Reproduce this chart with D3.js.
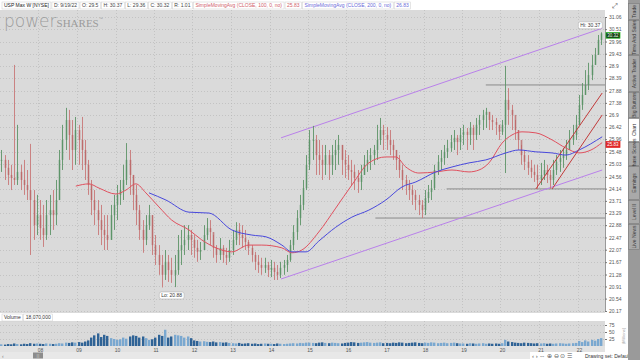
<!DOCTYPE html>
<html><head><meta charset="utf-8">
<script src="https://cdn.jsdelivr.net/npm/d3@7"></script>
<style>
html,body{margin:0;padding:0;background:#fff;overflow:hidden;}
svg{display:block;font-family:"Liberation Sans",Arial,sans-serif;}
</style></head><body>
<svg id="c" width="640" height="360"></svg>
<script>
// ---------- data (monthly, Jan 2007 .. Aug 2022) ----------
const yearLabels = ["08","09","10","11","12","13","14","15","16","17","18","19","20","21","22"];
const priceTicks = [31.06,30.51,29.96,29.43,28.9,28.39,27.88,27.38,26.9,26.42,25.96,25.48,25.03,24.56,24.14,23.71,23.29,22.88,22.47,22.07,21.67,21.28,20.91,20.54,20.17];
const volTicks = [25,50,75];
const high = [
25.55,25.36,25.18,25.00,28.95,26.51,25.00,25.18,24.81,25.78,24.09,23.92,
23.74,23.57,23.74,23.92,24.09,24.45,25.55,26.51,27.18,27.10,26.70,26.82,
26.51,26.82,25.93,25.18,24.45,24.09,23.74,23.57,23.22,23.22,23.57,23.92,
24.27,24.45,25.00,25.81,25.55,24.63,24.27,23.57,23.05,23.22,23.57,23.22,
22.55,22.22,21.90,22.06,21.90,21.81,21.90,22.55,22.72,22.88,22.88,22.72,
22.55,22.39,22.32,22.88,23.12,23.05,22.55,22.22,22.45,22.22,22.13,22.39,
22.72,22.98,22.95,22.88,22.72,22.39,22.22,22.00,21.90,21.81,21.81,21.68,
21.74,21.68,21.58,21.68,21.74,21.90,22.39,22.88,23.39,23.92,24.45,25.36,
26.31,26.47,26.12,25.93,25.74,25.74,25.55,25.74,25.93,26.12,25.74,25.55,
25.36,25.18,25.00,24.81,25.00,25.36,25.55,25.62,25.74,26.51,26.78,26.51,
26.43,26.31,25.93,25.55,25.36,25.00,24.63,24.45,24.27,24.09,23.92,23.74,
24.09,24.27,24.45,25.00,25.36,25.55,25.74,25.93,26.12,26.31,26.12,26.39,
26.51,26.39,26.62,26.51,26.78,26.90,27.10,27.18,27.02,26.90,26.78,26.51,
26.70,28.91,27.98,27.30,26.70,26.31,25.74,25.55,25.36,25.18,25.00,25.00,
25.07,25.18,25.00,24.81,25.18,25.36,25.55,25.62,25.93,26.31,26.51,26.90,
27.70,28.19,28.73,29.04,29.38,29.68,30.25,30.37];
const low = [
24.74,24.45,24.27,24.09,24.27,24.27,24.09,23.92,23.74,21.90,22.39,22.55,
22.39,22.16,22.39,22.55,22.72,22.88,23.74,24.81,25.55,25.18,24.81,25.00,
25.00,24.81,24.45,23.92,23.22,22.88,22.55,22.22,22.06,22.06,22.39,22.72,
23.05,23.57,23.74,24.27,23.92,23.39,22.88,22.39,21.97,22.22,22.72,21.90,
21.58,21.27,20.88,21.11,21.05,21.02,20.89,21.27,21.58,21.90,22.06,21.90,
21.81,21.68,21.74,22.06,22.39,22.22,21.81,21.65,21.74,21.65,21.58,21.68,
21.90,22.22,22.22,22.13,22.06,21.90,21.68,21.42,21.33,21.27,21.33,21.20,
21.20,21.11,21.11,21.17,21.27,21.36,21.68,22.06,22.39,22.88,23.39,24.09,
24.81,25.18,24.63,24.63,24.45,24.63,24.45,24.63,24.81,25.00,24.63,24.52,
24.45,24.27,24.09,23.99,24.09,24.63,24.74,24.81,25.00,25.18,25.74,25.55,
25.55,25.36,25.18,24.81,24.52,24.09,23.92,23.74,23.57,23.39,23.22,23.12,
23.22,23.64,23.74,24.09,24.63,24.81,25.00,25.25,25.48,25.55,25.36,25.55,
25.74,25.55,25.74,25.55,25.93,26.12,26.31,26.39,26.31,26.31,26.12,25.93,
26.12,24.70,26.51,26.31,25.93,25.55,25.00,24.81,24.63,24.52,24.38,24.13,
24.27,24.45,24.34,24.13,24.27,24.63,24.74,24.89,25.18,25.55,25.74,25.93,
26.51,27.10,27.70,27.90,28.31,28.95,29.38,29.81];
const close = [
25.18,24.89,24.63,24.52,24.45,24.74,24.45,24.27,24.09,23.74,22.88,23.22,
22.78,22.55,23.22,23.39,23.22,23.74,25.18,25.93,26.70,26.12,25.55,26.31,
25.93,25.55,25.00,24.27,23.74,23.39,23.05,22.72,22.55,22.39,23.22,23.57,
23.92,24.09,24.45,25.18,24.63,23.92,23.39,22.72,22.39,22.88,23.22,22.22,
21.90,21.58,21.27,21.68,21.42,21.27,21.42,22.06,22.22,22.39,22.55,22.39,
22.13,22.00,22.06,22.55,22.78,22.65,22.13,21.90,22.13,21.90,21.81,22.06,
22.39,22.72,22.55,22.45,22.32,22.13,21.90,21.68,21.58,21.49,21.58,21.42,
21.49,21.36,21.27,21.49,21.58,21.74,22.22,22.65,23.12,23.57,24.16,25.00,
25.93,25.93,25.36,25.18,25.00,25.36,25.00,25.36,25.55,25.74,25.18,25.00,
24.81,24.74,24.52,24.38,24.63,25.00,25.18,25.36,25.55,25.93,26.31,26.12,
25.93,25.74,25.55,25.18,24.81,24.45,24.27,24.09,23.92,23.74,23.57,23.39,
23.81,24.02,24.16,24.81,25.11,25.25,25.48,25.62,25.85,26.01,25.85,26.12,
26.24,26.12,26.39,26.12,26.51,26.70,26.90,27.02,26.70,26.62,26.51,26.24,
26.51,27.50,27.10,26.90,26.31,25.93,25.36,25.11,24.89,24.74,24.63,24.45,
24.63,24.81,24.63,24.45,24.81,25.11,25.25,25.36,25.55,25.93,26.12,26.51,
27.30,27.70,28.11,28.52,28.95,29.38,30.03,30.32];
const volume = [
6,5,7,6,9,7,6,8,7,10,8,9,
8,7,9,8,7,8,10,9,12,11,13,12,
14,12,16,20,30,38,45,32,40,36,28,25,
22,24,30,26,34,38,36,30,34,28,22,24,
30,40,36,58,30,34,40,38,36,30,34,28,
20,18,16,17,15,14,16,13,14,12,13,11,
10,9,11,8,9,10,8,9,7,8,9,8,
8,7,9,8,7,8,9,10,9,11,10,12,
12,11,10,12,13,11,10,12,11,10,9,11,
12,14,13,11,12,13,14,12,11,12,13,10,
11,10,12,11,13,12,10,11,12,13,11,10,
12,11,13,12,10,11,12,10,11,12,10,9,
9,8,10,9,8,9,10,8,9,8,9,8,
10,22,16,14,12,11,10,12,11,10,9,10,
9,10,8,9,8,9,10,9,8,9,10,11,
18,14,20,16,22,19,25,28];
// moving averages (decimal year, price)
const sma100Years = [2008.97,2009.31,2009.57,2010.01,2010.27,2010.53,2010.79,2011.13,2011.46,2011.91,2012.24,2012.61,2013.02,2013.46,2013.80,2014.32,2014.58,2014.84,2015.28,2015.72,2016.14,2016.58,2017.02,2017.28,2017.54,2017.88,2018.32,2018.74,2019.18,2019.44,2019.70,2020.04,2020.30,2020.56,2020.92,2021.34,2021.70,2022.04,2022.35,2022.64];
const sma100Values = [24.23,24.31,24.16,23.95,24.09,24.31,23.99,23.50,23.05,22.72,22.39,22.13,22.00,22.22,22.22,22.13,21.97,22.06,22.65,23.46,24.27,25.07,25.29,25.29,24.92,24.70,24.74,24.81,24.74,24.81,25.07,25.81,26.12,26.24,26.20,25.93,25.62,25.44,25.55,25.83];
const sma200Years = [2010.87,2011.31,2011.91,2012.43,2013.02,2013.54,2013.91,2014.32,2014.58,2014.95,2015.28,2015.72,2016.14,2016.58,2017.02,2017.44,2017.80,2018.32,2018.74,2019.18,2019.62,2020.14,2020.48,2020.92,2021.34,2021.70,2022.04,2022.64];
const sma200Values = [23.99,23.74,23.32,23.29,22.72,22.55,22.49,22.22,22.00,22.00,22.35,22.81,23.15,23.39,23.74,24.20,24.38,24.74,24.92,25.07,25.18,25.44,25.55,25.48,25.44,25.36,25.55,26.05];
// drawings
const channelYears = [2014.30, 2022.64];
const channelUpper = [26.01, 30.55];
const channelLower = [21.14, 24.81];
const levelStartYears = [2016.75, 2018.60, 2019.62];
const levelValues = [23.12, 24.13, 28.11];
const trendStartYears = [2020.92, 2021.34];
const trendStartValues = [24.13, 24.13];
const trendEndYear = 2022.64;
const trendEndValues = [27.78, 26.90];
const sidebarTabs = ["Trade","Time And Sales","Active Trader","Big Buttons","Chart","Phase Scores","Earnings","Level II","Live News"];
const headerItems = ["USP Max W [NYSE]","D: 9/19/22","O: 29.5","H: 30.37","L: 29.36","C: 30.32","R: 1.01","SimpleMovingAvg (CLOSE, 100, 0, no)","25.83","SimpleMovingAvg (CLOSE, 200, 0, no)","26.83"];

// ---------- layout ----------
const svg = d3.select("#c");
const PL = 0, PR = 605, PT = 10, PB = 313, VT = 321, VB = 346;
const x = d3.scaleTime().domain([new Date(2007,0,1), new Date(2023,0,1)]).range([0, 616]);
const y = d3.scaleLog().domain([20.17, 31.06]).range([311, 17]);
const yv = d3.scaleLinear().domain([0, 75]).range([VB, 325]);
const dy = v => { const yr = Math.floor(v); return new Date(yr, 0, 1 + Math.round((v - yr) * 365)); };
const mDate = m => new Date(2007, m, 15);
const FS = 5;

// backgrounds
svg.append("rect").attr("x",0).attr("y",0).attr("width",640).attr("height",360).attr("fill","#ffffff");
svg.append("rect").attr("x",PL).attr("y",PT).attr("width",PR-PL).attr("height",PB-PT).attr("fill","#dadada");
svg.append("rect").attr("x",PL).attr("y",VT).attr("width",PR-PL).attr("height",VB-VT).attr("fill","#dadada");
svg.append("rect").attr("x",0).attr("y",VB).attr("width",PR).attr("height",6).attr("fill","#e2e2e2");

svg.append("defs").append("clipPath").attr("id","pc").append("rect")
  .attr("x",PL).attr("y",PT).attr("width",PR-PL).attr("height",PB-PT);

// watermark
const wm = svg.append("text").attr("x",4).attr("y",27).attr("fill","#9a9a9a");
wm.append("tspan").attr("font-size",17).attr("font-family","'DejaVu Sans',sans-serif").attr("font-weight",300).text("power");
wm.append("tspan").attr("font-size",11).attr("font-family","'Liberation Serif',serif").text("SHARES");
wm.append("tspan").attr("font-size",4).attr("dy",-7).text("™");

// grid
const yearDates = yearLabels.map((d,i)=>new Date(2008+i,0,1));
const grid = svg.append("g").attr("stroke","#b4b4b4").attr("stroke-width",0.6).attr("stroke-dasharray","1,2");
grid.selectAll("line.h").data(priceTicks).join("line")
  .attr("x1",PL).attr("x2",PR).attr("y1",d=>Math.round(y(d))+0.5).attr("y2",d=>Math.round(y(d))+0.5);
grid.selectAll("line.v").data(yearDates).join("line")
  .attr("x1",d=>Math.round(x(d))+0.5).attr("x2",d=>Math.round(x(d))+0.5).attr("y1",PT).attr("y2",PB);
grid.selectAll("line.vv").data(yearDates).join("line")
  .attr("x1",d=>Math.round(x(d))+0.5).attr("x2",d=>Math.round(x(d))+0.5).attr("y1",VT).attr("y2",VB);
grid.selectAll("line.hv").data(volTicks).join("line")
  .attr("x1",PL).attr("x2",PR).attr("y1",d=>Math.round(yv(d))+0.5).attr("y2",d=>Math.round(yv(d))+0.5);

const plot = svg.append("g").attr("clip-path","url(#pc)");

// horizontal levels
plot.selectAll("line.lvl").data(levelValues).join("line")
  .attr("x1",(d,i)=>x(dy(levelStartYears[i]))).attr("x2",PR)
  .attr("y1",d=>y(d)).attr("y2",d=>y(d)).attr("stroke","#8a8a8a").attr("stroke-width",1);

// channel
const line = d3.line().x(d=>x(dy(d[0]))).y(d=>y(d[1]));
[channelUpper, channelLower].forEach(arr=>{
  plot.append("path").attr("d", line(channelYears.map((yy,i)=>[yy,arr[i]])))
    .attr("fill","none").attr("stroke","#b980ea").attr("stroke-width",1);
});

// candles
const candles = close.map((c,i)=>({d:mDate(i), o: i?close[i-1]:c, h:high[i], l:low[i], c}));
const cg = plot.append("g");
cg.selectAll("line").data(candles).join("line")
  .attr("x1",d=>Math.round(x(d.d))+0.5).attr("x2",d=>Math.round(x(d.d))+0.5)
  .attr("y1",d=>y(d.h)).attr("y2",d=>y(d.l))
  .attr("stroke",d=>d.c>=d.o?"#5d9468":"#c87878").attr("stroke-width",0.9);
cg.selectAll("rect").data(candles).join("rect")
  .attr("x",d=>Math.round(x(d.d))-0.3).attr("width",1.6)
  .attr("y",d=>y(Math.max(d.o,d.c))).attr("height",d=>Math.max(1,Math.abs(y(d.o)-y(d.c))))
  .attr("fill",d=>d.c>=d.o?"#5a9166":"#b86464").attr("opacity",0.75);

// moving averages
plot.append("path").attr("d", d3.line().curve(d3.curveMonotoneX).x(d=>x(dy(d[0]))).y(d=>y(d[1]))(sma100Years.map((t,i)=>[t,sma100Values[i]])))
  .attr("fill","none").attr("stroke","#e0505e").attr("stroke-width",1);
plot.append("path").attr("d", d3.line().curve(d3.curveMonotoneX).x(d=>x(dy(d[0]))).y(d=>y(d[1]))(sma200Years.map((t,i)=>[t,sma200Values[i]])))
  .attr("fill","none").attr("stroke","#4848dc").attr("stroke-width",1);

// red trend lines
trendStartYears.forEach((t,i)=>{
  plot.append("line").attr("x1",x(dy(t))).attr("y1",y(trendStartValues[i]))
    .attr("x2",x(dy(trendEndYear))).attr("y2",y(trendEndValues[i]))
    .attr("stroke","#c23a3a").attr("stroke-width",1);
});

// Hi / Lo labels
const hiIdx = d3.maxIndex(high), loIdx = d3.minIndex(low);
function tag(txt, cx, cy){
  const g = svg.append("g");
  const t = g.append("text").attr("x",cx).attr("y",cy+1.8).attr("text-anchor","middle").attr("font-size",FS).attr("fill","#333").text(txt);
  const w = t.node().getComputedTextLength()+4;
  g.insert("rect","text").attr("x",cx-w/2).attr("y",cy-3.5).attr("width",w).attr("height",7).attr("rx",2)
    .attr("fill","#fff").attr("stroke","#aaa").attr("stroke-width",0.5);
}
tag("Hi: "+high[hiIdx].toFixed(2), x(mDate(hiIdx))-11, y(high[hiIdx])-7);
tag("Lo: "+low[loIdx].toFixed(2), x(mDate(loIdx))+10, y(low[loIdx])+8);

// volume
svg.append("g").selectAll("rect").data(volume).join("rect")
  .attr("x",(d,i)=>Math.round(x(mDate(i)))-1).attr("width",2.4)
  .attr("y",d=>yv(d)).attr("height",d=>VB-yv(d))
  .attr("fill",(d,i)=>candles[i].c>=candles[i].o?"#7aa8d0":"#2f6396");

// volume band
svg.append("rect").attr("x",0).attr("y",PB).attr("width",PR).attr("height",VT-PB).attr("fill","#fff");
function box(txt,x0,yy,col){
  const t = svg.append("text").attr("x",x0+2).attr("y",yy).attr("font-size",FS).attr("fill",col||"#333").text(txt);
  const w = t.node().getComputedTextLength()+4;
  svg.append("rect").attr("x",x0).attr("y",yy-5).attr("width",w).attr("height",7).attr("fill","none").attr("stroke","#ccc").attr("stroke-width",0.5);
  return w;
}
let vx = 2; vx += box("Volume",vx,319) + 1; box("18,070,000",vx,319);

// header
svg.append("rect").attr("x",0).attr("y",0).attr("width",PR).attr("height",PT).attr("fill","#fff");
const hCols = ["#222","#444","#444","#444","#444","#444","#444","#d0606a","#d0606a","#6a6ad8","#6a6ad8"];
let hx = 2;
headerItems.forEach((t,i)=>{ hx += box(t,hx,7,hCols[i]) + 1; });

// right axis
const ax = svg.append("g").attr("transform",`translate(${PR},0)`)
  .call(d3.axisRight(y).tickValues(priceTicks).tickSize(2).tickFormat(d=>d));
ax.select(".domain").attr("stroke","#999");
ax.selectAll("text").attr("font-size",FS).attr("fill","#555").attr("x",4);
ax.selectAll("line").attr("stroke","#777");
const vax = svg.append("g").attr("transform",`translate(${PR},0)`)
  .call(d3.axisRight(yv).tickValues(volTicks).tickSize(2));
vax.select(".domain").remove();
vax.selectAll("text").attr("font-size",FS).attr("fill","#555").attr("x",4);
vax.selectAll("line").attr("stroke","#777");

// price boxes
function pbox(v, fill, stroke, txtc){
  const cy = y(v) + 1.6;
  svg.append("rect").attr("x",606).attr("y",cy-2.6).attr("width",14).attr("height",5.8).attr("fill",fill).attr("stroke",stroke).attr("stroke-width",0.8);
  svg.append("text").attr("x",613).attr("y",cy+1.7).attr("text-anchor","middle").attr("font-size",4.5).attr("fill",txtc).text(v.toFixed(2));
}
pbox(close[close.length-1], "#103810", "#35c035", "#e8ffe8");
pbox(sma100Values[sma100Values.length-1], "#e02828", "#e02828", "#ffffff");

// x axis
const xa = svg.append("g").attr("transform",`translate(1.5,${VB})`)
  .call(d3.axisBottom(x).tickValues(yearDates).tickSize(0).tickFormat((d,i)=>yearLabels[i]));
xa.select(".domain").remove();
xa.selectAll("text").attr("font-size",FS).attr("fill","#555").attr("dy","0.55em");

// scrollbar / toolbar
svg.append("rect").attr("x",0).attr("y",352).attr("width",530).attr("height",7).attr("fill","#e8e8e8");
svg.append("rect").attr("x",33).attr("y",352.5).attr("width",10).attr("height",6).attr("fill","#8c8c8c");
svg.append("text").attr("x",38).attr("y",357.5).attr("text-anchor","middle").attr("font-size",5).attr("fill","#eee").text("⁞⁞");
svg.append("text").attr("x",2).attr("y",358).attr("font-size",5).attr("fill","#777").text("‹");
svg.append("text").attr("x",532).attr("y",358).attr("font-size",6).attr("fill","#555").text("‹ › ⇔ ⊕ ⊖ ⊙  ☰");
svg.append("text").attr("x",585).attr("y",358).attr("font-size",FS).attr("fill","#333").text("Drawing set: Default");

// top-right icon
svg.append("text").attr("x",612).attr("y",8).attr("font-size",7).attr("fill","#555").text("⤢");

// sidebar
svg.append("rect").attr("x",628).attr("y",0).attr("width",12).attr("height",360).attr("fill","#9a9a9a");
const tabY = [[3,20],[20,55],[55,92],[92,118],[118,142],[142,166],[166,200],[200,224],[224,250]];
sidebarTabs.forEach((t,i)=>{
  const [a,b] = tabY[i];
  const sel = t==="Chart";
  svg.append("rect").attr("x",628.5).attr("y",a+0.5).attr("width",11).attr("height",b-a-1)
    .attr("fill",sel?"#ffffff":"#a9a9a9").attr("stroke","#7a7a7a").attr("stroke-width",0.6);
  svg.append("text").attr("transform",`translate(635.8,${(a+b)/2}) rotate(-90)`).attr("text-anchor","middle")
    .attr("font-size",FS).attr("fill",sel?"#333":"#3a3a3a").text(t);
});
svg.append("text").attr("transform","translate(625,336) rotate(-90)").attr("text-anchor","middle")
  .attr("font-size",4).attr("fill","#999").text("(Millions)");
</script>
</body></html>
